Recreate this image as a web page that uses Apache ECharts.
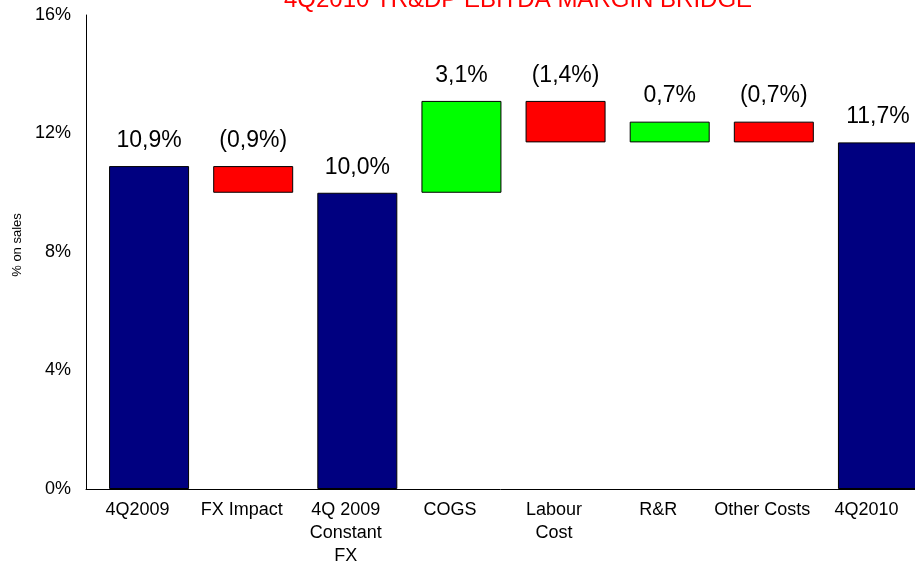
<!DOCTYPE html>
<html>
<head>
<meta charset="utf-8">
<script src="https://cdn.jsdelivr.net/npm/echarts@6/dist/echarts.min.js"></script>
<style>
  html, body { margin: 0; padding: 0; background: #fff; }
  #chart { width: 915px; height: 567px; }
</style>
</head>
<body>
<div id="chart"></div>
<script>
// waterfall data
const categories = ['4Q2009', 'FX Impact', '4Q 2009\nConstant\nFX', 'COGS', 'Labour\nCost', 'R&R', 'Other Costs', '4Q2010'];
const changes = [10.9, -0.9, 10.0, 3.1, -1.4, 0.7, -0.7, 11.7];
const isTotal = [true, false, true, false, false, false, false, true];
const yTicks = [0, 4, 8, 12, 16];

const FONT = '"Liberation Sans", Arial, sans-serif';

// build invisible base + visible segment for each step
const baseData = [];
const barData = [];
let running = 0;
changes.forEach(function (v, i) {
  let low, high, color;
  if (isTotal[i]) {
    low = 0; high = v; running = v; color = '#000080';
  } else {
    low = v >= 0 ? running : running + v;
    high = v >= 0 ? running + v : running;
    running = running + v;
    color = v >= 0 ? '#00FF00' : '#FF0000';
  }
  baseData.push(+low.toFixed(2));
  barData.push({ value: +(high - low).toFixed(2), delta: v, itemStyle: { color: color } });
});

function fmt(v) {
  const s = Math.abs(v).toFixed(1).replace('.', ',') + '%';
  return v < 0 ? '(' + s + ')' : s;
}

const chart = echarts.init(document.getElementById('chart'));
chart.setOption({
  animation: false,
  title: {
    text: '4Q2010 TR&DP EBITDA MARGIN BRIDGE',
    left: 513,
    textAlign: 'center',
    top: -17,
    textStyle: { color: '#FF0000', fontSize: 24, fontWeight: 'normal', fontFamily: FONT }
  },
  grid: [
    { left: 97, top: 15, width: 833, height: 474, outerBoundsMode: 'none' },
    { left: 86, top: 15, right: 0, height: 474, outerBoundsMode: 'none' }
  ],
  xAxis: [
    {
      type: 'category',
      gridIndex: 0,
      data: categories,
      axisLine: { show: false },
      axisTick: { show: false },
      axisLabel: {
        margin: 10,
        interval: 0,
        color: '#000',
        fontSize: 18,
        lineHeight: 23,
        padding: [0, 23, 0, 0],
        fontFamily: FONT
      }
    },
    {
      type: 'value',
      gridIndex: 1,
      axisLine: { show: true, lineStyle: { color: '#000', width: 1 } },
      axisTick: { show: false },
      axisLabel: { show: false },
      splitLine: { show: false }
    }
  ],
  yAxis: [
    {
      type: 'value',
      gridIndex: 0,
      min: 0,
      max: 16,
      show: false
    },
    {
      type: 'value',
      gridIndex: 1,
      min: yTicks[0],
      max: yTicks[yTicks.length - 1],
      interval: 4,
      name: '% on sales',
      nameLocation: 'middle',
      nameGap: 60,
      nameTextStyle: { color: '#000', fontSize: 13, fontFamily: FONT, padding: [0, 0, 0, 14] },
      axisLine: { show: true, lineStyle: { color: '#000', width: 1 } },
      axisTick: { show: false },
      splitLine: { show: false },
      axisLabel: {
        margin: 15,
        color: '#000',
        fontSize: 18,
        fontFamily: FONT,
        formatter: '{value}%'
      }
    }
  ],
  series: [
    {
      name: 'base',
      type: 'bar',
      stack: 'wf',
      xAxisIndex: 0,
      yAxisIndex: 0,
      barWidth: 80,
      itemStyle: { color: 'transparent' },
      emphasis: { disabled: true },
      data: baseData
    },
    {
      name: 'step',
      type: 'bar',
      stack: 'wf',
      xAxisIndex: 0,
      yAxisIndex: 0,
      barWidth: 80,
      itemStyle: { borderColor: '#000', borderWidth: 1 },
      label: {
        show: true,
        position: 'top',
        distance: 14,
        color: '#000',
        fontSize: 23,
        fontFamily: FONT,
        formatter: function (p) { return fmt(p.data.delta); }
      },
      data: barData
    }
  ]
});
</script>
</body>
</html>
